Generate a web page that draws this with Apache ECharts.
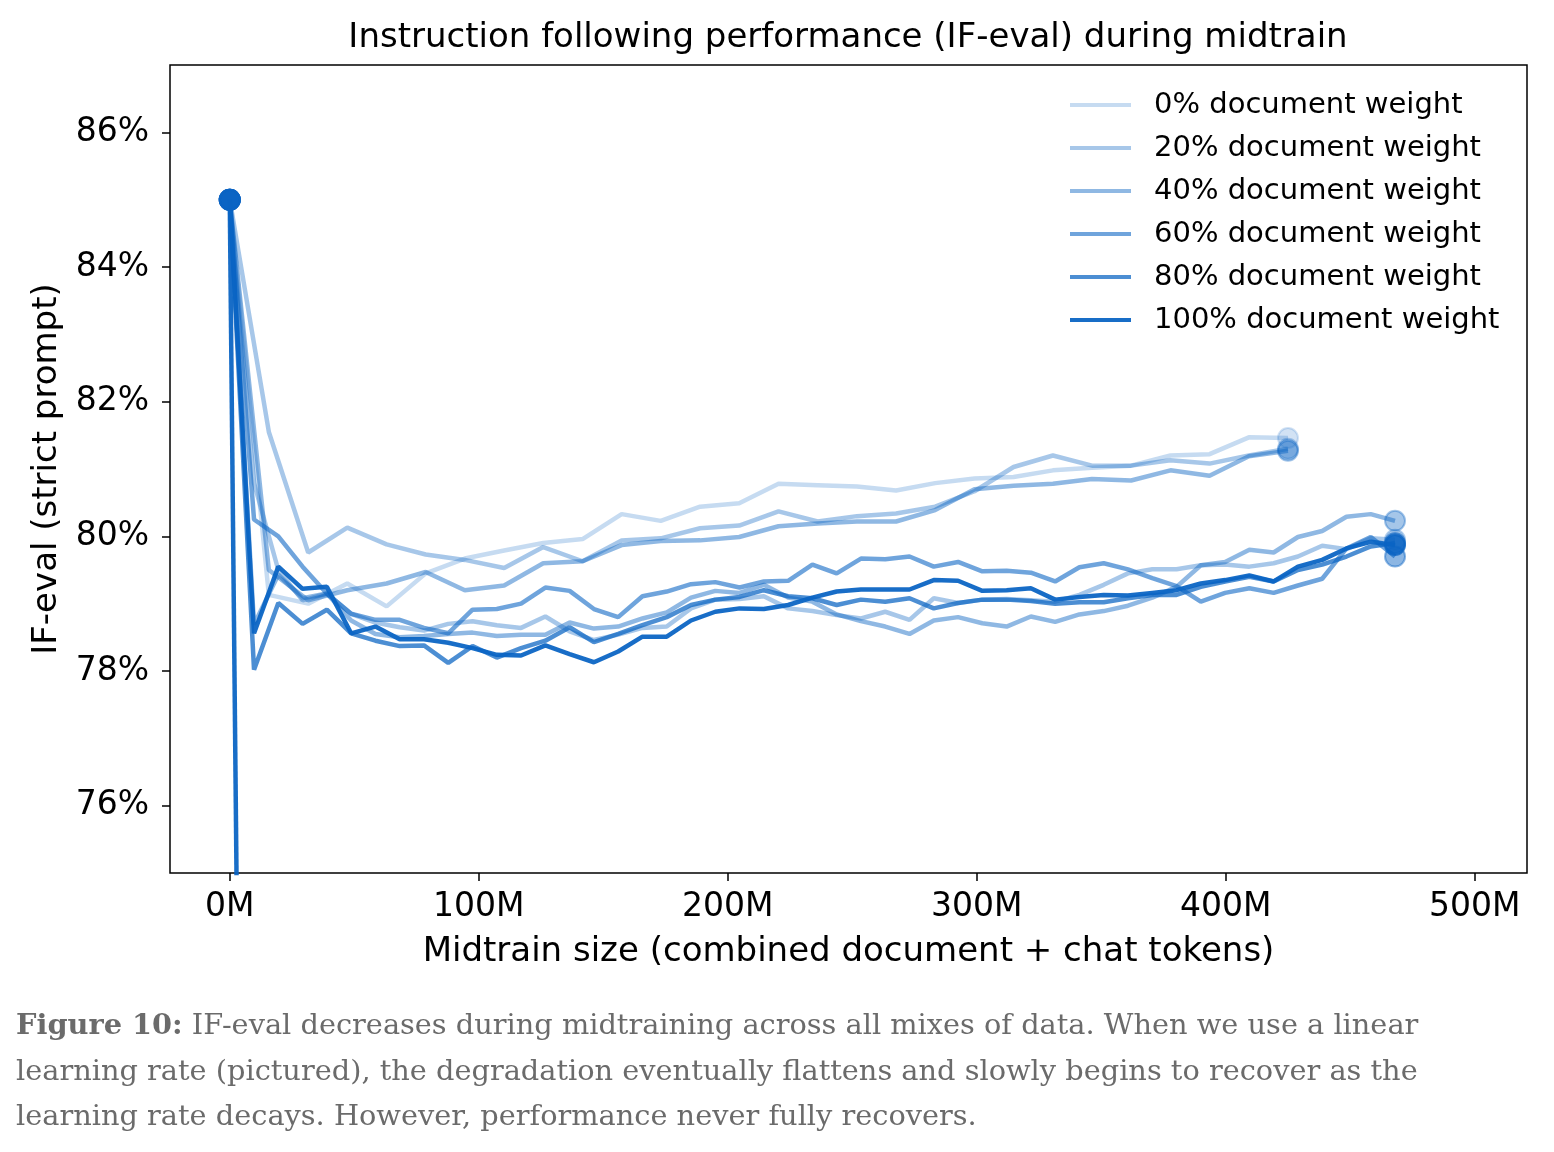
<!DOCTYPE html>
<html>
<head>
<meta charset="utf-8">
<script src="https://cdn.jsdelivr.net/npm/echarts@6/dist/echarts.min.js"></script>
<style>
html,body{margin:0;padding:0;background:#fff;}
#chart{width:1554px;height:1152px;}
</style>
</head>
<body>
<div id="chart"></div>
<script>
// ---------- DATA ----------
const legendNames = ['0% document weight','20% document weight','40% document weight','60% document weight','80% document weight','100% document weight'];
const xTickValues = [0,100,200,300,400,500];
const yTickValues = [76,78,80,82,84,86];

// token counts (M) of the evaluation checkpoints
const upperX = [0,15.7,31.5,47.2,63,78.7,94.4,110.2,125.9,141.7,157.4,173.1,188.9,204.6,220.4,236.1,251.9,267.6,283.3,299.1,314.8,330.6,346.3,362,377.8,393.5,409.3,425];
const lowerX = [0,9.75,19.5,29.25,39,48.75,58.5,68.25,78,87.75,97.5,107.25,117,126.75,136.5,146.25,156,165.75,175.5,185.25,195,204.75,214.5,224.25,234,243.75,253.5,263.25,273,282.75,292.5,302.25,312,321.75,331.5,341.25,351,360.75,370.5,380.25,390,399.75,409.5,419.25,429,438.75,448.5,458.25,468];
const crashX = [0,9.75];

// IF-eval (%) values
const w0Upper  = [85,79.13,79.0,79.3,78.96,79.45,79.67,79.79,79.9,79.96,80.33,80.23,80.44,80.49,80.78,80.76,80.74,80.68,80.79,80.86,80.88,80.98,81.02,81.05,81.2,81.22,81.47,81.46];
const w20Upper = [85,81.55,79.76,80.13,79.88,79.73,79.65,79.53,79.84,79.63,79.94,79.97,80.12,80.16,80.37,80.22,80.30,80.34,80.44,80.67,81.03,81.2,81.05,81.05,81.13,81.08,81.2,81.3];
const w40Upper = [85,79.5,79.05,79.2,79.3,79.47,79.2,79.27,79.6,79.63,79.87,79.93,79.94,79.99,80.15,80.19,80.22,80.22,80.39,80.7,80.75,80.78,80.85,80.83,80.98,80.9,81.19,81.27];

const w20Lower = [85,80.79,79.5,79.05,79.15,78.85,78.72,78.65,78.6,78.7,78.74,
  78.68,78.64,78.81,78.59,78.46,78.54,78.64,78.66,78.93,79.06,79.07,79.11,
  78.93,78.89,78.83,78.78,78.88,78.76,79.08,79.01,79.06,
  79.07,79.05,79.03,79.13,79.28,79.45,79.51,79.51,79.57,79.58,79.55,79.6,79.7,79.86,79.81,79.97,79.95];
const w40Lower = [85,78.69,79.43,79.08,79.15,78.75,78.55,78.5,78.52,78.55,78.57,
  78.52,78.54,78.54,78.72,78.63,78.66,78.78,78.87,79.09,79.19,79.16,79.28,
  79.09,79.03,78.84,78.74,78.66,78.55,78.75,78.8,78.71,
  78.66,78.81,78.73,78.84,78.89,78.97,79.09,79.25,79.57,79.62,79.8,79.76,79.99,80.08,80.29,80.33,80.23];
const w60 = [85,80.25,80.0,79.55,79.15,78.85,78.76,78.76,78.64,78.56,78.91,
  78.92,79.0,79.24,79.19,78.92,78.8,79.11,79.18,79.29,79.32,79.24,79.33,
  79.34,79.58,79.45,79.67,79.66,79.70,79.55,79.62,79.48,
  79.49,79.46,79.33,79.54,79.60,79.51,79.38,79.26,79.03,79.16,79.23,79.16,79.27,79.37,79.82,79.99,79.70];
const w80 = [85,78.02,79.01,78.7,78.91,78.56,78.45,78.37,78.38,78.12,78.37,
  78.2,78.34,78.45,78.65,78.43,78.55,78.68,78.8,78.98,79.06,79.1,79.2,
  79.11,79.08,78.98,79.06,79.03,79.08,78.93,79.01,79.06,
  79.06,79.04,79.0,79.02,79.02,79.08,79.13,79.13,79.25,79.33,79.4,79.33,79.5,79.58,79.7,79.85,79.9];
const w100 = [85,78.56,79.55,79.22,79.25,78.56,78.66,78.47,78.47,78.42,78.34,
  78.24,78.23,78.38,78.25,78.13,78.29,78.51,78.51,78.75,78.88,78.93,78.92,
  78.98,79.09,79.18,79.21,79.21,79.21,79.35,79.34,79.19,
  79.2,79.23,79.06,79.1,79.13,79.12,79.16,79.2,79.3,79.35,79.42,79.33,79.55,79.65,79.82,79.92,79.87];
const w100Crash = [85,49];

// ---------- STYLE ----------
const base = [10,100,195];
const alphaList = [0.23,0.36,0.46,0.59,0.73,0.94];
const alphaByName = {};
legendNames.forEach((n,i)=>{ alphaByName[n] = alphaList[i]; });
function rgba(a){ return 'rgba('+base[0]+','+base[1]+','+base[2]+','+a+')'; }

const runs = [
  {name: legendNames[0], x: upperX, y: w0Upper, end: true},
  {name: legendNames[1], x: upperX, y: w20Upper, end: true},
  {name: legendNames[1], x: lowerX, y: w20Lower, end: true},
  {name: legendNames[2], x: upperX, y: w40Upper, end: true},
  {name: legendNames[2], x: lowerX, y: w40Lower, end: true},
  {name: legendNames[3], x: lowerX, y: w60, end: true},
  {name: legendNames[4], x: lowerX, y: w80, end: true},
  {name: legendNames[5], x: lowerX, y: w100, end: true},
  {name: legendNames[5], x: crashX, y: w100Crash, end: false}
];

const series = [];
const markerData = [];
runs.forEach(r => {
  const c = rgba(alphaByName[r.name]);
  series.push({
    name: r.name, type: 'line', symbol: 'none', clip: true,
    data: r.x.map((xv,i)=>[xv, r.y[i]]),
    lineStyle: {color: c, width: 4.5},
    itemStyle: {color: c},
    emphasis: {disabled: true},
    z: 2
  });
  const pts = [[r.x[0], r.y[0]]];
  if (r.end) pts.push([r.x[r.x.length-1], r.y[r.y.length-1]]);
  pts.forEach(p => markerData.push({value: p, itemStyle: {color: c, borderColor: c, borderWidth: 2}}));
});
series.push({
  name: 'endpoints', type: 'scatter', symbol: 'circle', symbolSize: 20, clip: true,
  data: markerData, z: 3, emphasis: {disabled: true}
});

const font = 'DejaVu Sans';
const capFont = 'DejaVu Serif';
const capColor = '#6b6b6b';
const capSize = 28.8;
const chart = echarts.init(document.getElementById('chart'), null, {renderer: 'canvas'});
chart.setOption({
  animation: false,
  backgroundColor: '#ffffff',
  grid: {left: 170, top: 65, right: 27, bottom: 279, show: true, borderColor: '#000', borderWidth: 1.5, backgroundColor: 'transparent'},
  legend: {
    data: legendNames, orient: 'vertical', left: 1070, top: 90, padding: 0,
    itemWidth: 61, itemHeight: 30, itemGap: 13,
    icon: 'path://M0,13 L61,13 L61,17 L0,17 Z',
    textStyle: {fontSize: 29, fontFamily: font, color: '#000', padding: [0,0,0,18], lineHeight: 30},
    selectedMode: false
  },
  xAxis: {
    type: 'value', min: -24, max: 521,
    name: 'Midtrain size (combined document + chat tokens)', nameLocation: 'middle', nameGap: 62,
    nameTextStyle: {fontSize: 34, fontFamily: font, color: '#000'},
    axisLine: {show: false, onZero: false},
    axisTick: {show: true, inside: false, length: 8, lineStyle: {color: '#000', width: 1.5}, customValues: xTickValues},
    axisLabel: {show: true, fontSize: 33, fontFamily: font, color: '#000', margin: 18, customValues: xTickValues, formatter: v => v + 'M'},
    splitLine: {show: false}
  },
  yAxis: {
    type: 'value', min: 75, max: 87,
    name: 'IF-eval (strict prompt)', nameLocation: 'middle', nameGap: 106, nameRotate: 90,
    nameTextStyle: {fontSize: 34, fontFamily: font, color: '#000'},
    axisLine: {show: false, onZero: false},
    axisTick: {show: true, inside: false, length: 8, lineStyle: {color: '#000', width: 1.5}, customValues: yTickValues},
    axisLabel: {show: true, fontSize: 33, fontFamily: font, color: '#000', margin: 21, customValues: yTickValues, formatter: v => v + '%'},
    splitLine: {show: false}
  },
  graphic: [
    {type: 'text', x: 848, y: 38, style: {text: 'Instruction following performance (IF-eval) during midtrain', fontSize: 34, fontFamily: font, fill: '#000', align: 'center', verticalAlign: 'middle'}},
    {type: 'text', x: 16, y: 1027, style: {text: '{b|Figure 10:} IF-eval decreases during midtraining across all mixes of data. When we use a linear', rich: {b: {fontWeight: 'bold', fontSize: capSize, fontFamily: capFont, fill: capColor}}, fontSize: capSize, fontFamily: capFont, fill: capColor, verticalAlign: 'middle'}},
    {type: 'text', x: 16, y: 1073, style: {text: 'learning rate (pictured), the degradation eventually flattens and slowly begins to recover as the', fontSize: capSize, fontFamily: capFont, fill: capColor, verticalAlign: 'middle'}},
    {type: 'text', x: 16, y: 1118, style: {text: 'learning rate decays. However, performance never fully recovers.', fontSize: capSize, fontFamily: capFont, fill: capColor, verticalAlign: 'middle'}}
  ],
  series: series
});
</script>
</body>
</html>
